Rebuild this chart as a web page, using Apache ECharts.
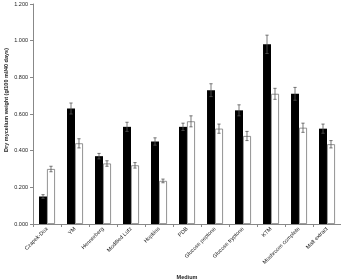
<!DOCTYPE html>
<html>
<head>
<meta charset="utf-8">
<script src="https://cdn.jsdelivr.net/npm/echarts@6/dist/echarts.min.js"></script>
<style>
  html, body { margin: 0; padding: 0; background: #fff; }
  #chart { width: 341px; height: 280px; }
</style>
</head>
<body>
<div id="chart"></div>
<script>
// media on the x axis
const mediums = ['Czapek-Dox', 'YM', 'Hennerberg', 'Modified Lutz', 'Hopkins', 'PDB',
  'Glucose peptone', 'Glucose tryptone', 'KTM', 'Mushroom complete', 'Malt extract'];
// black bars
const blackVals = [0.15, 0.63, 0.37, 0.53, 0.45, 0.53, 0.73, 0.62, 0.98, 0.71, 0.52];
const blackErr = [0.01, 0.03, 0.015, 0.025, 0.02, 0.02, 0.035, 0.03, 0.05, 0.035, 0.025];
// white bars
const whiteVals = [0.30, 0.44, 0.33, 0.32, 0.235, 0.56, 0.52, 0.48, 0.71, 0.525, 0.435];
const whiteErr = [0.015, 0.025, 0.015, 0.015, 0.01, 0.03, 0.025, 0.025, 0.03, 0.025, 0.02];

const CAT_GAP = 0.43;
const font = 'Liberation Sans, Arial, sans-serif';

function errorSeries(vals, errs, side) {
  return {
    type: 'custom',
    data: vals.map((v, i) => [i, v, errs[i]]),
    encode: { x: 0, y: 1 },
    z: 5,
    renderItem: function (params, api) {
      const i = api.value(0), v = api.value(1), e = api.value(2)
      const band = api.size([1, 0])[0]
      const bw = band * (1 - CAT_GAP) / 2
      const x = api.coord([i, v])[0] + side * bw / 2
      const top = api.coord([i, v + e])[1]
      const bot = api.coord([i, v - e])[1]
      const cap = 1.6
      const style = { stroke: '#555', lineWidth: 0.8 }
      return {
        type: 'group',
        children: [
          { type: 'line', shape: { x1: x, y1: top, x2: x, y2: bot }, style: style },
          { type: 'line', shape: { x1: x - cap, y1: top, x2: x + cap, y2: top }, style: style },
          { type: 'line', shape: { x1: x - cap, y1: bot, x2: x + cap, y2: bot }, style: style }
        ]
      }
    }
  }
}

const chart = echarts.init(document.getElementById('chart'))
chart.setOption({
  animation: false,
  grid: { left: 33, right: 0, top: 4, bottom: 56, containLabel: false, outerBoundsMode: 'none' },
  xAxis: {
    type: 'category',
    data: mediums,
    axisLine: { lineStyle: { color: '#888', width: 1 } },
    axisTick: { show: true, length: 3, lineStyle: { color: '#888' } },
    axisLabel: {
      rotate: 45, interval: 0, fontSize: 5.5, color: '#222', fontFamily: font, margin: 4
    },
    name: 'Medium',
    nameLocation: 'middle',
    nameGap: 50,
    nameTextStyle: { fontSize: 5.5, fontWeight: 'bold', color: '#222', fontFamily: font }
  },
  yAxis: {
    type: 'value',
    min: 0, max: 1.2, interval: 0.2,
    axisLine: { show: true, lineStyle: { color: '#888', width: 1 } },
    axisTick: { show: true, length: 3, lineStyle: { color: '#888' } },
    splitLine: { show: false },
    axisLabel: {
      fontSize: 5.5, color: '#222', fontFamily: font, margin: 5,
      formatter: v => v.toFixed(3)
    }
  },
  graphic: [{
    type: 'text',
    x: 6, y: 100,
    rotation: Math.PI / 2,
    style: {
      text: 'Dry mycelium weight (g/100 ml/40 days)',
      fontSize: 5.5, fontWeight: 'bold', fill: '#222', fontFamily: font,
      align: 'center', verticalAlign: 'middle'
    }
  }],
  series: [
    {
      type: 'bar', data: blackVals, barGap: 0, barCategoryGap: (CAT_GAP * 100) + '%',
      itemStyle: { color: '#000' }
    },
    {
      type: 'bar', data: whiteVals,
      itemStyle: { color: '#fff', borderColor: '#777', borderWidth: 0.8 }
    },
    errorSeries(blackVals, blackErr, -1),
    errorSeries(whiteVals, whiteErr, 1)
  ]
})
</script>
</body>
</html>
